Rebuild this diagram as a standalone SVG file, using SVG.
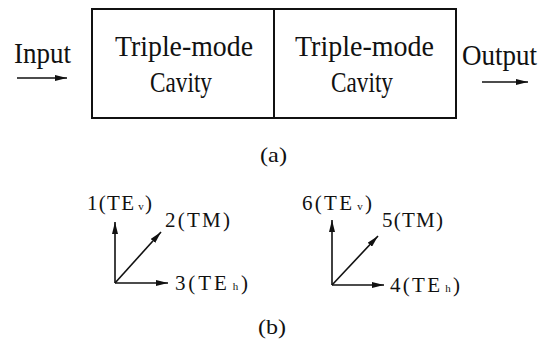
<svg xmlns="http://www.w3.org/2000/svg" width="552" height="339" viewBox="0 0 552 339">
<style>
text{font-family:"Liberation Serif","Times New Roman",serif;fill:#111}
.big{font-size:29px}
.lbl{font-size:21px}
.cap{font-size:22px}
.sub{font-size:11px}
.ln{stroke:#111;stroke-width:2;fill:none}
.ar{stroke:#111;stroke-width:1.6;fill:none}
</style>
<defs>
<marker id="ah" viewBox="0 0 12 6" refX="12" refY="3" markerWidth="12" markerHeight="6" markerUnits="userSpaceOnUse" orient="auto">
<path d="M0,0 L12,3 L0,6 Z" fill="#111"/>
</marker>
</defs>
<g id="cavity1">
<rect x="92" y="9" width="182" height="109" class="ln"/>
<text class="big" x="115" y="56" textLength="138" lengthAdjust="spacingAndGlyphs">Triple-mode</text>
<text class="big" x="150" y="92" textLength="62" lengthAdjust="spacingAndGlyphs">Cavity</text>
</g>
<g id="cavity2">
<rect x="274" y="9" width="182" height="109" class="ln"/>
<text class="big" x="295" y="56" textLength="139" lengthAdjust="spacingAndGlyphs">Triple-mode</text>
<text class="big" x="331" y="92" textLength="62" lengthAdjust="spacingAndGlyphs">Cavity</text>
</g>
<g id="input"><text class="big" x="14" y="63" textLength="57" lengthAdjust="spacingAndGlyphs">Input</text></g>
<g id="output"><text class="big" x="462" y="65" textLength="75" lengthAdjust="spacingAndGlyphs">Output</text></g>
<text class="cap" x="260" y="162" textLength="27" lengthAdjust="spacingAndGlyphs">(a)</text>
<text class="cap" x="258" y="334" textLength="28" lengthAdjust="spacingAndGlyphs">(b)</text>
<g id="connectors">
<line x1="17" y1="78" x2="67" y2="78" class="ar" marker-end="url(#ah)"/>
<line x1="482" y1="82" x2="528" y2="82" class="ar" marker-end="url(#ah)"/>
<line x1="115" y1="283" x2="115" y2="222" class="ar" marker-end="url(#ah)"/>
<line x1="115" y1="283" x2="161" y2="232" class="ar" marker-end="url(#ah)"/>
<line x1="115" y1="283" x2="168" y2="283" class="ar" marker-end="url(#ah)"/>
<line x1="332" y1="285" x2="332" y2="220" class="ar" marker-end="url(#ah)"/>
<line x1="332" y1="285" x2="378" y2="236" class="ar" marker-end="url(#ah)"/>
<line x1="332" y1="285" x2="384" y2="285" class="ar" marker-end="url(#ah)"/>
</g>
<g id="mode1"><text class="lbl" x="87" y="210" textLength="65" lengthAdjust="spacing">1(TE<tspan class="sub" dx="3">v</tspan>)</text></g>
<g id="mode2"><text class="lbl" x="165" y="227" textLength="65" lengthAdjust="spacing">2(TM)</text></g>
<g id="mode3"><text class="lbl" x="175" y="290" textLength="73" lengthAdjust="spacing">3(TE<tspan class="sub" dx="3">h</tspan>)</text></g>
<g id="mode6"><text class="lbl" x="302" y="210" textLength="70" lengthAdjust="spacing">6(TE<tspan class="sub" dx="3">v</tspan>)</text></g>
<g id="mode5"><text class="lbl" x="382" y="227" textLength="61" lengthAdjust="spacing">5(TM)</text></g>
<g id="mode4"><text class="lbl" x="390" y="292" textLength="70" lengthAdjust="spacing">4(TE<tspan class="sub" dx="3">h</tspan>)</text></g>
</svg>
